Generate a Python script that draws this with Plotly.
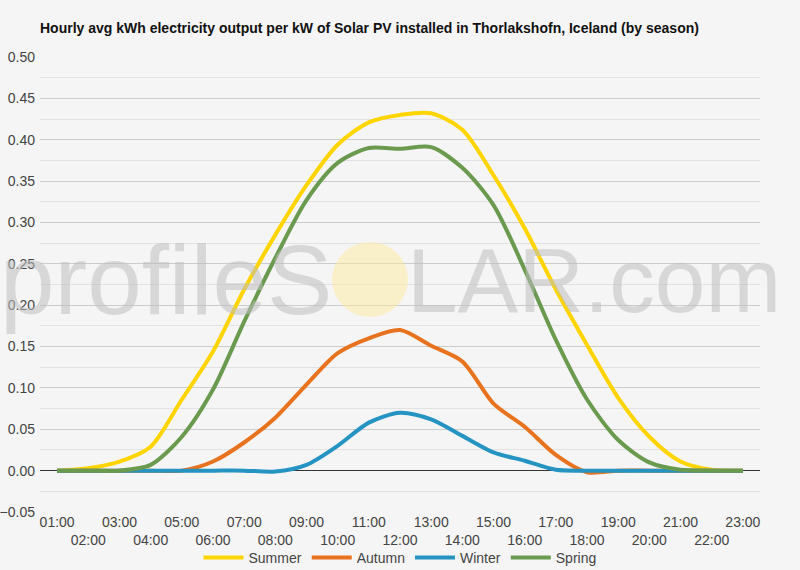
import plotly.graph_objects as go

hours = ["01:00", "02:00", "03:00", "04:00", "05:00", "06:00", "07:00", "08:00",
         "09:00", "10:00", "11:00", "12:00", "13:00", "14:00", "15:00", "16:00",
         "17:00", "18:00", "19:00", "20:00", "21:00", "22:00", "23:00"]

summer = [0.0, 0.003, 0.011, 0.029, 0.086, 0.144, 0.219, 0.285, 0.345, 0.394, 0.421,
          0.430, 0.432, 0.412, 0.357, 0.293, 0.219, 0.152, 0.088, 0.041, 0.011, 0.001, 0.0]
autumn = [0.0, 0.0, 0.0, 0.0, 0.0, 0.011, 0.034, 0.064, 0.104, 0.142, 0.160,
          0.170, 0.151, 0.132, 0.081, 0.053, 0.019, -0.002, 0.0, 0.0, 0.0, 0.0, 0.0]
winter = [0.0, 0.0, 0.0, 0.0, 0.0, 0.0, 0.0, -0.001, 0.007, 0.030, 0.058,
          0.070, 0.062, 0.042, 0.022, 0.012, 0.001, 0.0, 0.0, 0.0, 0.0, 0.0, 0.0]
spring = [0.0, 0.0, 0.0, 0.007, 0.041, 0.098, 0.180, 0.257, 0.327, 0.372, 0.390,
          0.389, 0.391, 0.366, 0.321, 0.243, 0.158, 0.086, 0.037, 0.010, 0.001, 0.0, 0.0]

series = [("Summer", summer, "#FFD500"), ("Autumn", autumn, "#E8731E"),
          ("Winter", winter, "#2594C2"), ("Spring", spring, "#6A9A4E")]

x = list(range(len(hours)))
ticktext = [h if i % 2 == 0 else "<br>" + h for i, h in enumerate(hours)]

fig = go.Figure()
for name, vals, color in series:
    fig.add_trace(go.Scatter(x=x, y=vals, name=name, mode="lines",
                             line=dict(color=color, width=4, shape="spline", smoothing=0.8)))

fig.update_layout(
    width=800, height=570,
    margin=dict(l=40, r=40, t=57, b=58, autoexpand=False),
    paper_bgcolor="#f5f5f5", plot_bgcolor="#f5f5f5",
    font=dict(family="Liberation Sans, Arial, sans-serif", size=14, color="#444"),
    title=dict(text="<b>Hourly avg kWh electricity output per kW of Solar PV installed in Thorlakshofn, Iceland (by season)</b>",
               x=40/800, xanchor="left", y=1 - 28/570, yanchor="middle",
               font=dict(size=14, color="#111")),
    showlegend=True,
    legend=dict(orientation="h", x=0.5, xanchor="center", y=-(558 - 512) / 455, yanchor="middle",
                font=dict(size=14, color="#444"), bgcolor="rgba(0,0,0,0)",
                itemwidth=40, tracegroupgap=0),
    xaxis=dict(range=[-0.55, len(hours) - 0.45], tickvals=x, ticktext=ticktext,
               showgrid=False, zeroline=False, showline=False, ticks="",
               tickfont=dict(size=14, color="#444"), tickangle=0, automargin=False),
    yaxis=dict(range=[-0.05, 0.5], dtick=0.05, tickformat=".2f",
               showgrid=True, gridcolor="#cccccc", gridwidth=1,
               minor=dict(dtick=0.025, showgrid=True, gridcolor="#e2e2e2"),
               zeroline=True, zerolinecolor="#333333", zerolinewidth=1,
               showline=False, ticks="", ticklabelstandoff=4, automargin=False,
               tickfont=dict(size=14, color="#444")),
)

# watermark
fig.add_shape(type="circle", xref="paper", yref="paper",
              x0=(332 - 40) / 720, x1=(408 - 40) / 720,
              y0=(512 - 317) / 455, y1=(512 - 242) / 455,
              fillcolor="rgba(255,235,150,0.45)", line=dict(width=0), layer="above")
fig.add_annotation(text="profileS", xref="paper", yref="paper",
                   x=(334 - 40) / 720, xanchor="right", y=(512 - 280) / 455, yanchor="middle",
                   showarrow=False, font=dict(size=98, color="rgba(190,190,190,0.55)",
                                              family="Liberation Sans, Arial"))
fig.add_annotation(text="LAR.com", xref="paper", yref="paper",
                   x=(405 - 40) / 720, xanchor="left", y=(512 - 280) / 455, yanchor="middle",
                   showarrow=False, font=dict(size=91, color="rgba(190,190,190,0.55)",
                                              family="Liberation Sans, Arial"))

fig.write_html("out.html")
